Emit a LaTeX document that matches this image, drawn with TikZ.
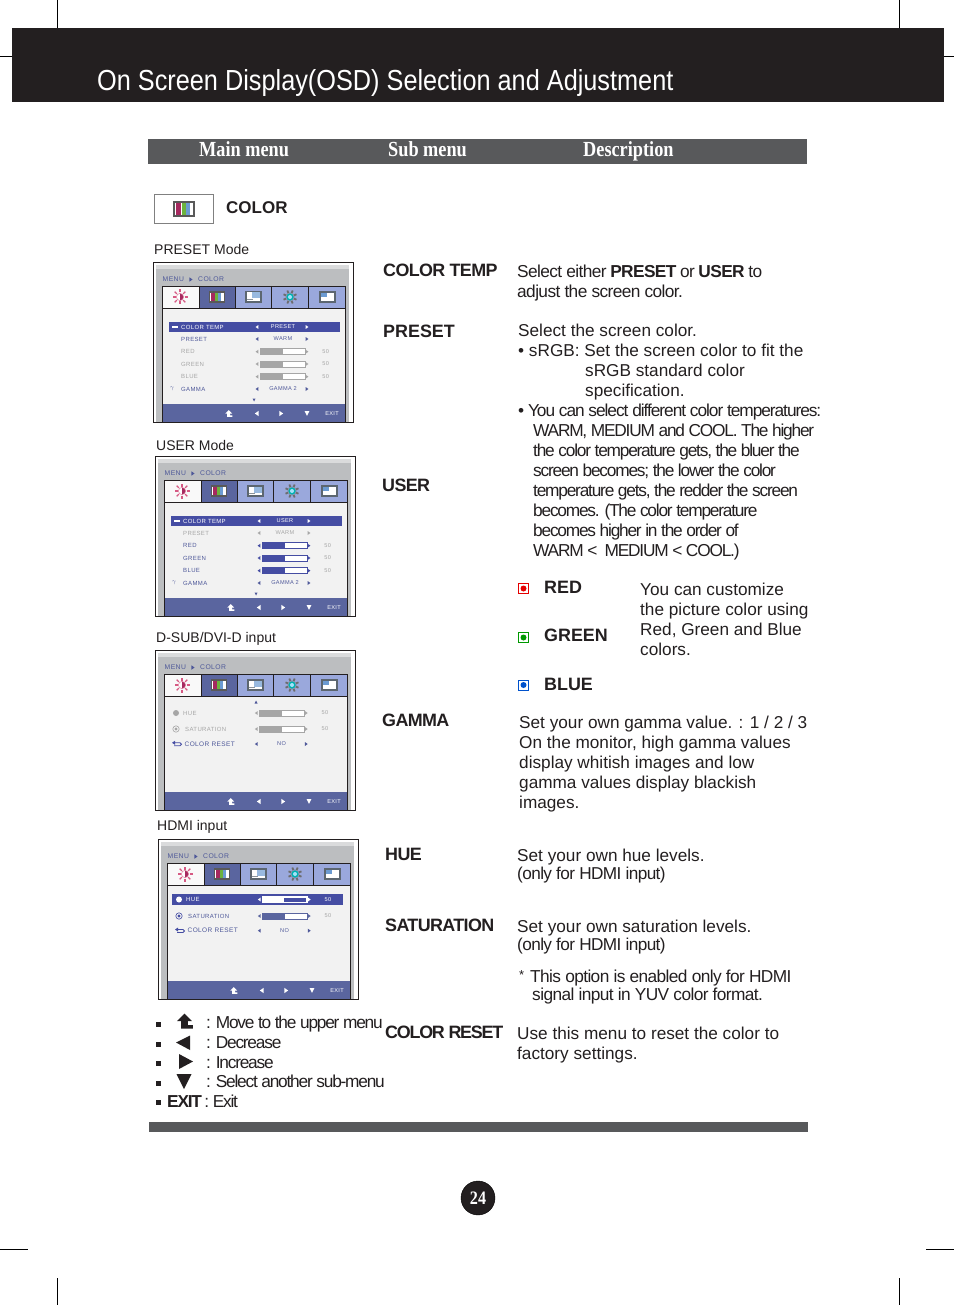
\documentclass[tikz,border=0pt]{standalone}
\usepackage{fontspec}
\setmainfont{Liberation Sans}
\newfontfamily\headfont[FakeStretch=0.872]{Liberation Sans}
\newfontfamily\headtight[LetterSpace=-3.5]{Liberation Sans}
\newfontfamily\barfont[FakeStretch=0.85]{Liberation Serif}
\newfontfamily\tightfont[LetterSpace=-3.5]{Liberation Sans}
\newfontfamily\tighterfont[LetterSpace=-7]{Liberation Sans}
\newfontfamily\bulletfont[LetterSpace=-6]{Liberation Sans}
\newfontfamily\osdfont[LetterSpace=6]{Liberation Sans}
\definecolor{inkblack}{HTML}{231F20}
\definecolor{bargray}{HTML}{58595B}
\definecolor{osdgray}{HTML}{BCBEC0}
\definecolor{osdpanel}{HTML}{F2F2F2}
\definecolor{osddark}{HTML}{5A659F}
\definecolor{osdtab}{HTML}{9AA8DC}
\definecolor{osdrow}{HTML}{454DA3}
\definecolor{osdlabel}{HTML}{4E5899}
\definecolor{osdoff}{HTML}{A6A6A6}
\definecolor{osdframe}{HTML}{5C6670}
\definecolor{barmagenta}{HTML}{A6295F}
\definecolor{bargreen}{HTML}{6CB33F}
\definecolor{barblue}{HTML}{6C9BD2}
\tikzset{
	txt/.style={anchor=north west,inner sep=0pt,align=left,text=inkblack,yshift=-2pt,font=\fontsize{17.2}{19.9}\selectfont},
	tighttxt/.style={txt,font=\fontsize{17.3}{19.9}\selectfont\tightfont},
	tightertxt/.style={txt,font=\fontsize{17.3}{19.9}\selectfont\tighterfont},
	head/.style={anchor=north west,inner sep=0pt,text=inkblack,yshift=-2pt,font=\fontsize{17.9}{20}\selectfont\bfseries},
	headt/.style={head,font=\fontsize{17.9}{20}\selectfont\headtight\bfseries},
	modelabel/.style={anchor=north west,inner sep=0pt,text=inkblack,yshift=-2pt,font=\fontsize{14}{16}\selectfont},
	barlabel/.style={anchor=base west,inner sep=0pt,text=white,font=\fontsize{21.5}{22}\selectfont\barfont\bfseries},
	osdtxt/.style={anchor=west,inner sep=0pt,font=\fontsize{6}{7}\selectfont\osdfont},
	osdbig/.style={anchor=west,inner sep=0pt,font=\fontsize{6.5}{7}\selectfont\osdfont},
	osdval/.style={anchor=center,inner sep=0pt,font=\fontsize{5.6}{7}\selectfont\osdfont},
	colordot/.style={draw=#1,line width=1pt,fill=white}
}
\newcommand{\triLeft}[4]{\fill[#1] (#2-0.7*#4,#3) -- (#2+0.7*#4,#3-#4) -- (#2+0.7*#4,#3+#4) -- cycle;}
\newcommand{\triRight}[4]{\fill[#1] (#2+0.7*#4,#3) -- (#2-0.7*#4,#3-#4) -- (#2-0.7*#4,#3+#4) -- cycle;}
\newcommand{\triDown}[4]{\fill[#1] (#2,#3+#4) -- (#2-#4,#3-#4) -- (#2+#4,#3-#4) -- cycle;}
\newcommand{\triUp}[4]{\fill[#1] (#2,#3-#4) -- (#2-#4,#3+#4) -- (#2+#4,#3+#4) -- cycle;}
\newcommand{\upMenu}[4]{\fill[#1] (#2,#3-#4) -- (#2+#4,#3) -- (#2+0.45*#4,#3) -- (#2+0.45*#4,#3+0.55*#4) -- (#2+1.1*#4,#3+0.55*#4) -- (#2+1.1*#4,#3+#4) -- (#2-0.45*#4,#3+#4) -- (#2-0.45*#4,#3) -- (#2-#4,#3) -- cycle;}
% color bars icon
\newcommand{\barsIcon}[4]{
	\fill[#1] (#2-#4,#3-0.72*#4) rectangle (#2+#4,#3+0.72*#4);
	\fill[white] (#2-0.82*#4,#3-0.52*#4) rectangle (#2+0.82*#4,#3+0.52*#4);
	\fill[barmagenta] (#2-0.72*#4,#3-0.52*#4) rectangle (#2-0.3*#4,#3+0.52*#4);
	\fill[bargreen] (#2-0.2*#4,#3-0.52*#4) rectangle (#2+0.16*#4,#3+0.52*#4);
	\fill[barblue] (#2+0.16*#4,#3-0.52*#4) rectangle (#2+0.55*#4,#3+0.52*#4);
}
% the frame with its tabs, drawn at the origin of the scope
\newcommand{\osdFrame}{
	\fill[white] (0,0) rectangle (200.5,160.5);
	\fill[osdgray] (3,3) rectangle (196,160);
	\fill[osdgray!55] (3,3) rectangle (196,7);
	\fill[osdpanel] (9,46) rectangle (192,142);
	\fill[osddark] (9,142) rectangle (192,160);
	\fill[white!95!gray] (9,24) rectangle (46,46);
	\fill[osddark] (46,24) rectangle (82,46);
	\fill[osdtab] (82,24) rectangle (192,46);
	\draw[inkblack,line width=0.7pt] (9,160) -- (9,24) -- (192,24) -- (192,160);
	\draw[inkblack,line width=0.7pt] (9,46) -- (192,46);
	\foreach \tabx in {46,82,118,155}
		\draw[inkblack,line width=0.7pt] (\tabx,24) -- (\tabx,46);
	\draw[inkblack,line width=0.9pt] (0,0) rectangle (200.5,160.5);
	\node[osdtxt,text=osdlabel,font=\fontsize{6.8}{7}\selectfont\osdfont] (menu) at (9.5,17.5) {MENU};
	\triRight{osdlabel}{38}{17.5}{2.2}
	\node[osdtxt,text=osdlabel,font=\fontsize{6.8}{7}\selectfont\osdfont] (color) at (45,17.5) {COLOR};
	% sun
	\foreach \ang in {0,45,...,315}
		\draw[purple!65!white,line width=1.3pt] (27,35) ++(\ang:4.5) -- ++(\ang:3);
	\fill[white] (27,35) circle (3.6);
	\fill[barmagenta] (27,38.6) arc (90:-90:3.6) -- cycle;
	\draw[purple!50!white,line width=0.5pt] (27,35) circle (3.6);
	% bars
	\barsIcon{gray!70!black}{64}{35}{8}
	% monitor
	\fill[osdframe] (92,29) rectangle (108.5,41);
	\fill[white] (94,30.5) rectangle (106.5,39);
	\fill[barblue!70] (99,30.5) rectangle (106.5,36.5);
	\fill[osdframe!70] (94,37) rectangle (100,38.2);
	% gear
	\foreach \ang in {22.5,67.5,...,337.5}
		\draw[gray!85!black,line width=1.8pt] (137,35) -- ++(\ang:7);
	\fill[osdtab!50!gray] (137,35) circle (4.6);
	\fill[teal!60!cyan] (137,35) circle (3.6);
	\fill[white!65!cyan] (137,35) circle (2);
	% window
	\fill[osdframe] (165.5,29) rectangle (182.5,41);
	\fill[white] (167.5,31) rectangle (180.5,39);
	\fill[barblue] (167.5,31) rectangle (174,35);
	% footer marks
	\upMenu{white}{75.7}{151.5}{3.4}
	\triLeft{white}{103.7}{151.5}{2.6}
	\triRight{white}{128.3}{151.5}{2.6}
	\triDown{white}{154}{151.5}{2.4}
	\node[osdval,text=white] (exit) at (179,151.5) {EXIT};
}
\newcommand{\osdBarx}{0}
\newcommand{\osdArrows}[2]{
	\triLeft{#2}{104+\osdBarx}{#1}{2}
	\triRight{#2}{154+\osdBarx}{#1}{2}
}
% #1 y, #2 label, #3 value, #4 color
\newcommand{\osdRow}[4]{
	\node[osdtxt,text=#4] at (28,#1) {#2};
	\osdArrows{#1}{#4}
	\node[osdval,text=#4] at (130,#1) {#3};
}
% #1 y, #2 label, #3 bar color, #4 text color, #5 color of the number
\newcommand{\osdBarRow}[5]{
	\node[osdtxt,text=#4] at (28,#1) {#2};
	\osdArrows{#1}{#3}
	\draw[fill=white,draw=#3,line width=0.6pt] (107+\osdBarx,#1-3) rectangle (152+\osdBarx,#1+3);
	\fill[#3] (107+\osdBarx,#1-3) rectangle (129.5+\osdBarx,#1+3);
	\node[osdval,text=#5] at (172.7+\osdBarx,#1) {50};
}
% the reset row of the two hue screens
\newcommand{\osdResetRow}[1]{
	\draw[osdrow,line width=0.8pt] (19,#1-1.2) -- (25,#1-1.2) arc (-90:90:1.5) -- (19,#1+1.8);
	\fill[osdrow] (17,#1-1.2) -- (20,#1-3.2) -- (20,#1+0.8) -- cycle;
	\node[osdbig,text=osdlabel] at (29.5,#1) {COLOR RESET};
	\osdArrows{#1}{osdlabel}
	\node[osdval,text=osdlabel] at (126.5,#1) {NO};
}
% #1 value, #2 color of PRESET line, #3 bar color, #4 bar label color
\newcommand{\osdColorRows}[4]{
	\fill[osdrow] (16,60) rectangle (187,70);
	\fill[white] (18.5,64.4) rectangle (25,65.6);
	\osdRow{65}{COLOR TEMP}{#1}{white}
	\osdRow{77}{PRESET}{WARM}{#2}
	\osdBarRow{89.7}{RED}{#3}{#4}{osdoff}
	\osdBarRow{102}{GREEN}{#3}{#4}{osdoff}
	\osdBarRow{114.7}{BLUE}{#3}{#4}{osdoff}
	\node[osdval,text=osdlabel] at (19,127) {$\gamma$};
	\osdRow{127}{GAMMA}{GAMMA 2}{osdlabel}
	\triDown{osdlabel}{101}{138}{1.5}
}
\begin{document}
\begin{tikzpicture}[x=1pt,y=-1pt]
	\useasboundingbox (0,0) rectangle (954,1305);
	% crop marks
	\foreach \markx in {57,899}{
		\draw[black,line width=0.6pt] (\markx,0) -- (\markx,28);
		\draw[black,line width=0.6pt] (\markx,1278) -- (\markx,1305);
	}
	\draw[black,line width=0.6pt] (0,56) -- (12,56);
	\draw[black,line width=0.6pt] (944,56) -- (954,56);
	\draw[black,line width=0.6pt] (0,1249) -- (28,1249);
	\draw[black,line width=0.6pt] (926,1249) -- (954,1249);

	\fill[inkblack] (12,28) rectangle (944,102);
	\node[anchor=west,inner sep=0pt,text=white,font=\fontsize{29}{32}\selectfont\headfont] (title) at (97,83) {On Screen Display(OSD) Selection and Adjustment};

	\fill[bargray] (148,139) rectangle (807,164);
	\node[barlabel] (mainmenu) at (199,157) {Main menu};
	\node[barlabel] (submenu) at (388,157) {Sub menu};
	\node[barlabel] (description) at (583,157) {Description};

	\draw[gray,fill=white,line width=0.7pt] (154,194) rectangle (213,223);
	\barsIcon{gray!70!black}{184}{209}{11}
	\node[head,anchor=west,yshift=2pt,font=\fontsize{17}{20}\selectfont\bfseries] (colorhead) at (226,208) {COLOR};

	\node[modelabel] (presetmode) at (154,242) {PRESET Mode};
	\node[modelabel] (usermode) at (156,438) {USER Mode};
	\node[modelabel] (dsubmode) at (156,630) {D-SUB/DVI-D input};
	\node[modelabel] (hdmimode) at (157,818) {HDMI input};

	% preset screen
	\begin{scope}[shift={(153,262)}]
		\osdFrame
		\osdColorRows{PRESET}{osdlabel}{osdoff}{osdoff}
	\end{scope}
	% user screen
	\begin{scope}[shift={(155,456)}]
		\osdFrame
		\osdColorRows{USER}{osdoff}{osdrow}{osdlabel}
	\end{scope}
	% d-sub screen
	\begin{scope}[shift={(155,650)}]
		\renewcommand{\osdBarx}{-2.7}
		\osdFrame
		\triUp{osdlabel}{101}{52}{1.5}
		\fill[osdoff] (21,63) circle (3);
		\osdBarRow{63}{HUE}{osdoff}{osdoff}{osdoff}
		\draw[osdoff,line width=0.6pt] (21,79) circle (3.2);
		\fill[osdoff] (21,79) circle (1.7);
		\osdBarRow{79}{\hspace{2pt}SATURATION}{osdoff}{osdoff}{osdoff}
		\osdResetRow{94}
	\end{scope}
	% hdmi screen
	\begin{scope}[shift={(158,839)}]
		\renewcommand{\osdBarx}{-2.7}
		\osdFrame
		\fill[osdrow] (14,55) rectangle (185,66);
		\fill[white] (21,60.5) circle (3);
		\osdBarRow{60.5}{HUE}{white}{white}{white}
		\fill[osdrow] (126,58.5) rectangle (147.5,62.5);
		\draw[osdrow,line width=0.6pt] (21,77) circle (3.2);
		\fill[osdrow] (21,77) circle (1.7);
		\osdBarRow{77}{\hspace{2pt}SATURATION}{osddark}{osdlabel}{osdoff}
		\osdResetRow{91.7}
	\end{scope}

	% sub menu column
	\node[headt] (colortemp) at (383,262) {COLOR TEMP};
	\node[head] (preset) at (383,323) {PRESET};
	\node[headt] (user) at (382,477) {USER};
	\node[headt] (gamma) at (382,712) {GAMMA};
	\node[headt] (hue) at (385,846) {HUE};
	\node[headt] (saturation) at (385,917) {SATURATION};
	\node[head,font=\fontsize{17.9}{20}\selectfont\tighterfont\bfseries] (colorreset) at (385,1024) {COLOR RESET};

	% description column
	\node[tighttxt] (tempdesc) at (517,263) {Select either \textbf{PRESET} or \textbf{USER} to\\adjust the screen color.};
	\node[txt] (presetdesc) at (518,322) {Select the screen color.\\• sRGB: Set the screen color to fit the};
	\node[txt] (srgbdesc) at (585,362) {sRGB standard color\\specification.};
	\node[txt,font=\fontsize{17.3}{19.9}\selectfont\bulletfont] (tempbullet) at (518,402) {• You can select different color temperatures:};
	\node[tightertxt] (templist) at (533,422) {WARM, MEDIUM and COOL. The higher\\the color temperature gets, the bluer the\\screen becomes; the lower the color\\temperature gets, the redder the screen\\becomes. (The color temperature\\becomes higher in the order of\\WARM <\ \ MEDIUM < COOL.)};

	\draw[colordot=red!90!black] (518.5,583.5) rectangle (528.5,593.5);
	\fill[red!90!black] (523.5,588.5) circle (3);
	\draw[colordot=green!60!black] (518.5,632.5) rectangle (528.5,642.5);
	\fill[green!60!black] (523.5,637.5) circle (3);
	\draw[colordot=blue!60!cyan!80!black] (518.5,680) rectangle (528.5,690);
	\fill[blue!60!cyan!80!black] (523.5,685) circle (3);
	\node[head] (red) at (544,579) {RED};
	\node[head] (green) at (544,627) {GREEN};
	\node[head] (blue) at (544,676) {BLUE};
	\node[txt] (customdesc) at (640,581) {You can customize\\the picture color using\\Red, Green and Blue\\colors.};

	\node[txt] (gammadesc) at (519,714) {Set your own gamma value. : 1 / 2 / 3\\On the monitor, high gamma values\\display whitish images and low\\gamma values display blackish\\images.};
	\node[txt,font=\fontsize{17.2}{18}\selectfont] (huedesc) at (517,847) {Set your own hue levels.\\{\tightfont (only for HDMI input)}};
	\node[txt,font=\fontsize{17.2}{18}\selectfont] (satdesc) at (517,918) {Set your own saturation levels.\\{\tightfont (only for HDMI input)}};
	\node[tighttxt,font=\fontsize{13}{18}\selectfont] (yuvstar) at (519,968) {*};
	\node[tighttxt,font=\fontsize{17.3}{18}\selectfont\tightfont] (yuvopt) at (530,968) {This option is enabled only for HDMI};
	\node[tighttxt,font=\fontsize{17.3}{18}\selectfont\tightfont] (yuvdesc) at (532,986) {signal input in YUV color format.};
	\node[txt] (resetdesc) at (517,1025) {Use this menu to reset the color to\\factory settings.};

	% key
	\foreach \keyy in {1024,1044,1063,1083,1102}
		\fill[inkblack] (156,\keyy-2.5) rectangle (161,\keyy+2.5);
	\upMenu{inkblack}{184.5}{1021}{7.5}
	\fill[inkblack] (176,1042.5) -- (190,1035.5) -- (190,1050) -- cycle;
	\fill[inkblack] (193,1061.5) -- (179,1054) -- (179,1069) -- cycle;
	\triDown{inkblack}{184}{1081.5}{7.5}
	\node[tightertxt] (keyup) at (206,1014) {: Move to the upper menu};
	\node[tightertxt] (keydec) at (206,1034) {: Decrease};
	\node[tightertxt] (keyinc) at (206,1054) {: Increase};
	\node[tightertxt] (keysel) at (206,1073) {: Select another sub-menu};
	\node[tightertxt] (keyexit) at (167,1093) {\textbf{EXIT} : Exit};

	\fill[bargray] (149,1122) rectangle (808,1132);
	\node[circle,fill=inkblack,draw=black,minimum size=34pt,inner sep=0pt,text=white,font=\fontsize{19}{20}\selectfont\barfont\bfseries] (pagenum) at (478,1198) {24};
\end{tikzpicture}
\end{document}
